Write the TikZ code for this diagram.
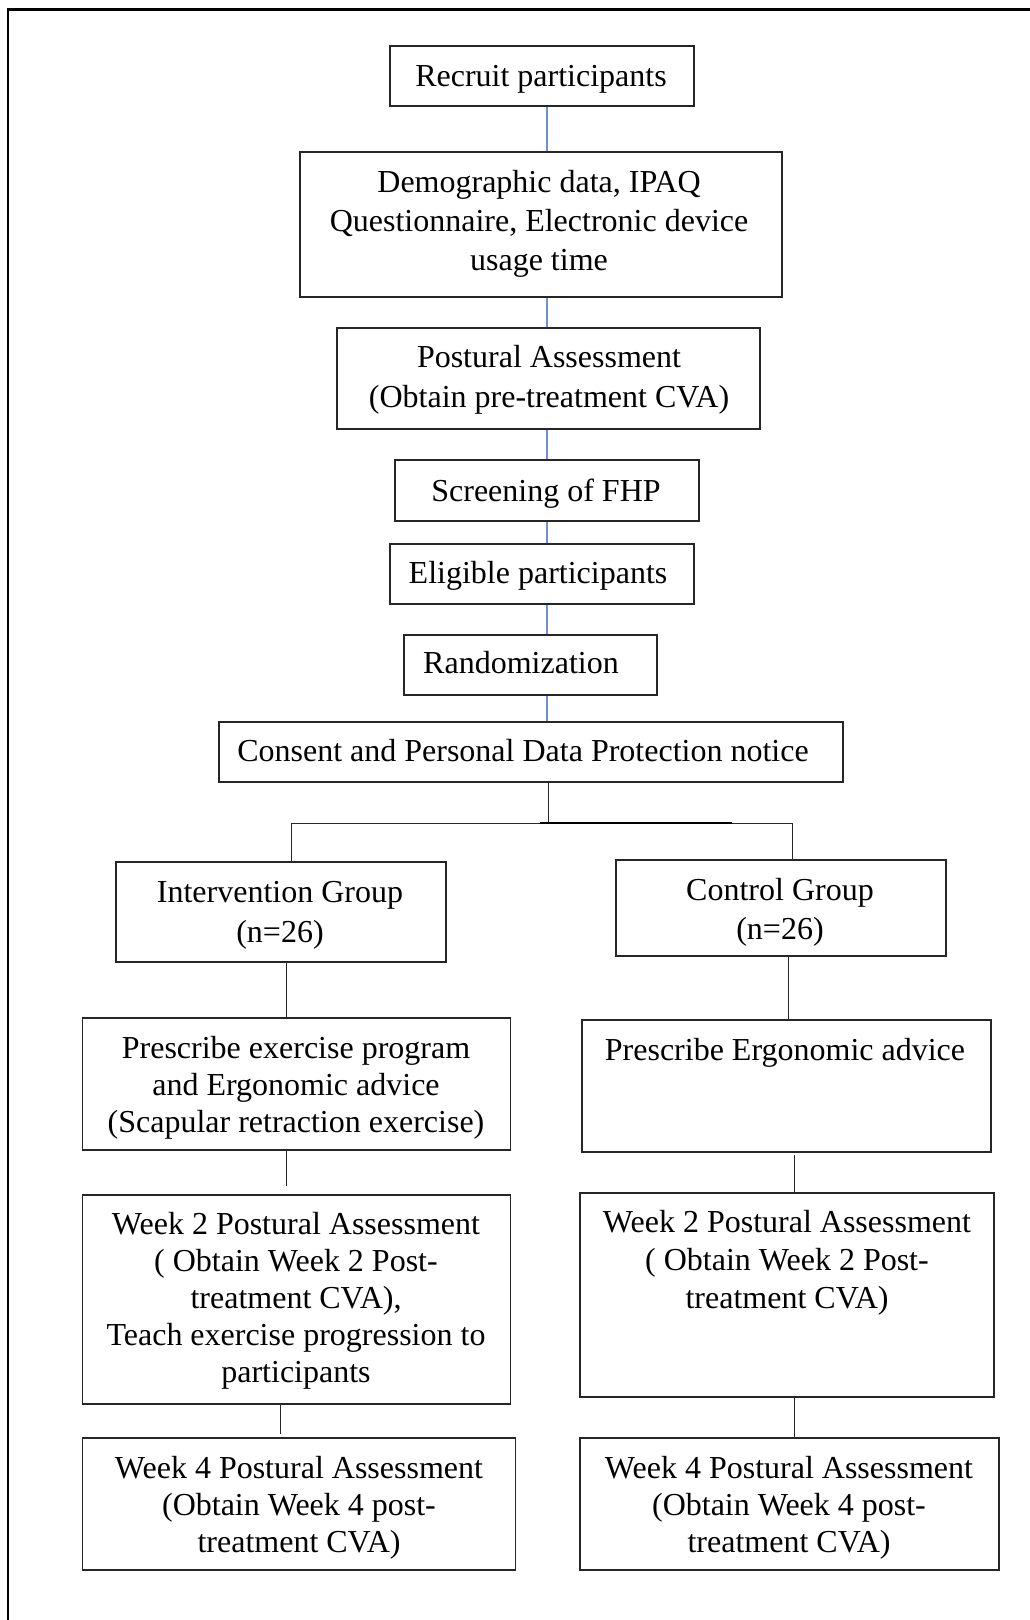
\documentclass[tikz,border=0pt]{standalone}
\usepackage{fontspec}
\setmainfont{Liberation Serif}
\begin{document}
\begin{tikzpicture}[x=1pt,y=-1pt,
  box/.style={draw=black!85,line width=1.6pt,rectangle,inner sep=0pt,anchor=north west},
  txt/.style={inner sep=0pt,align=center,font=\fontsize{32}{37}\selectfont},
  blueline/.style={line width=1.3pt,draw={rgb,255:red,111;green,143;blue,208}},
  blk/.style={draw=black!85,line width=1pt}]
\useasboundingbox (0,0) rectangle (1030,1620);
\fill[white] (0,0) rectangle (1030,1620);
% outer frame
\draw[line width=3pt] (8,9.5) -- (1031,9.5);
\draw[line width=2pt] (8,8) -- (8,1621);
% boxes
\node[box,minimum width=304pt,minimum height=60pt] (b1) at (389,45) {};
\node[box,minimum width=482pt,minimum height=145pt] (b2) at (299,151) {};
\node[box,minimum width=423pt,minimum height=101pt] (b3) at (336,327) {};
\node[box,minimum width=304pt,minimum height=61pt] (b4) at (394,459) {};
\node[box,minimum width=304pt,minimum height=60pt] (b5) at (389,543) {};
\node[box,minimum width=253pt,minimum height=60pt] (b6) at (403,634) {};
\node[box,minimum width=624pt,minimum height=60pt] (b7) at (218,721) {};
\node[box,minimum width=330pt,minimum height=100pt] (il) at (115,861) {};
\node[box,minimum width=330pt,minimum height=96pt] (ir) at (615,859) {};
\node[box,minimum width=428pt,minimum height=132pt] (pl) at (81.5,1017) {};
\node[box,minimum width=409pt,minimum height=132pt] (pr) at (581,1019) {};
\node[box,minimum width=428pt,minimum height=209pt] (wl) at (81.5,1194) {};
\node[box,minimum width=414pt,minimum height=204pt] (wr) at (579,1192) {};
\node[box,minimum width=433pt,minimum height=132pt] (fl) at (81.5,1437) {};
\node[box,minimum width=419pt,minimum height=132pt] (fr) at (579,1437) {};
% texts
\node[txt] (t1) at (541,79) {Recruit participants};
\node[txt,font=\fontsize{32}{39}\selectfont] (t2) at (539,224) {Demographic data, IPAQ\\Questionnaire, Electronic device\\usage time};
\node[txt,font=\fontsize{32}{40}\selectfont] (t3) at (549,379.5) {Postural Assessment\\(Obtain pre-treatment CVA)};
\node[txt] (t4) at (546,493.5) {Screening of FHP};
\node[txt] (t5) at (538,576) {Eligible participants};
\node[txt] (t6) at (521,663) {Randomization};
\node[txt] (t7) at (523,751) {Consent and Personal Data Protection notice};
\node[txt,font=\fontsize{32}{40}\selectfont] (t8) at (280,915.5) {Intervention Group\\(n=26)};
\node[txt,font=\fontsize{32}{39}\selectfont] (t9) at (780,912.5) {Control Group\\(n=26)};
\node[txt] (t10) at (296,1087.5) {Prescribe exercise program\\and Ergonomic advice\\(Scapular retraction exercise)};
\node[txt] (t11) at (785,1053) {Prescribe Ergonomic advice};
\node[txt] (t12) at (296,1300.5) {Week 2 Postural Assessment\\( Obtain Week 2 Post-\\treatment CVA),\\Teach exercise progression to\\participants};
\node[txt,font=\fontsize{32}{38}\selectfont] (t13) at (787,1263) {Week 2 Postural Assessment\\( Obtain Week 2 Post-\\treatment CVA)};
\node[txt] (t14) at (299,1508) {Week 4 Postural Assessment\\(Obtain Week 4 post-\\treatment CVA)};
\node[txt] (t15) at (789,1508) {Week 4 Postural Assessment\\(Obtain Week 4 post-\\treatment CVA)};
% blue connectors
\draw[blueline] (b1.south -| 547,0) -- (b2.north -| 547,0);
\draw[blueline] (b2.south -| 547,0) -- (b3.north -| 547,0);
\draw[blueline] (b3.south -| 547,0) -- (b4.north -| 547,0);
\draw[blueline] (b4.south -| 547,0) -- (b5.north -| 547,0);
\draw[blueline] (b5.south -| 547,0) -- (b6.north -| 547,0);
\draw[blueline] (b6.south -| 547,0) -- (b7.north -| 547,0);
% split
\coordinate (sp) at (548,823.7);
\draw[blk] (b7.south -| sp) -- (sp);
\draw[blk] (il.north -| 291,0) -- (291,823.7) -- (792.7,823.7) -- (ir.north -| 792.7,0);
\draw[line width=2.2pt] (540,823) -- (731.7,823);
% left column
\draw[blk] (il.south -| 286.5,0) -- (pl.north -| 286.5,0);
\draw[blk] (pl.south -| 286.5,0) -- (286.5,1186);
\draw[blk] (wl.south -| 280.5,0) -- (280.5,1434);
% right column
\draw[blk] (ir.south -| 788,0) -- (pr.north -| 788,0);
\draw[blk] (794,1155) -- (wr.north -| 794,0);
\draw[blk] (794,1398) -- (fr.north -| 794,0);
\end{tikzpicture}
\end{document}
